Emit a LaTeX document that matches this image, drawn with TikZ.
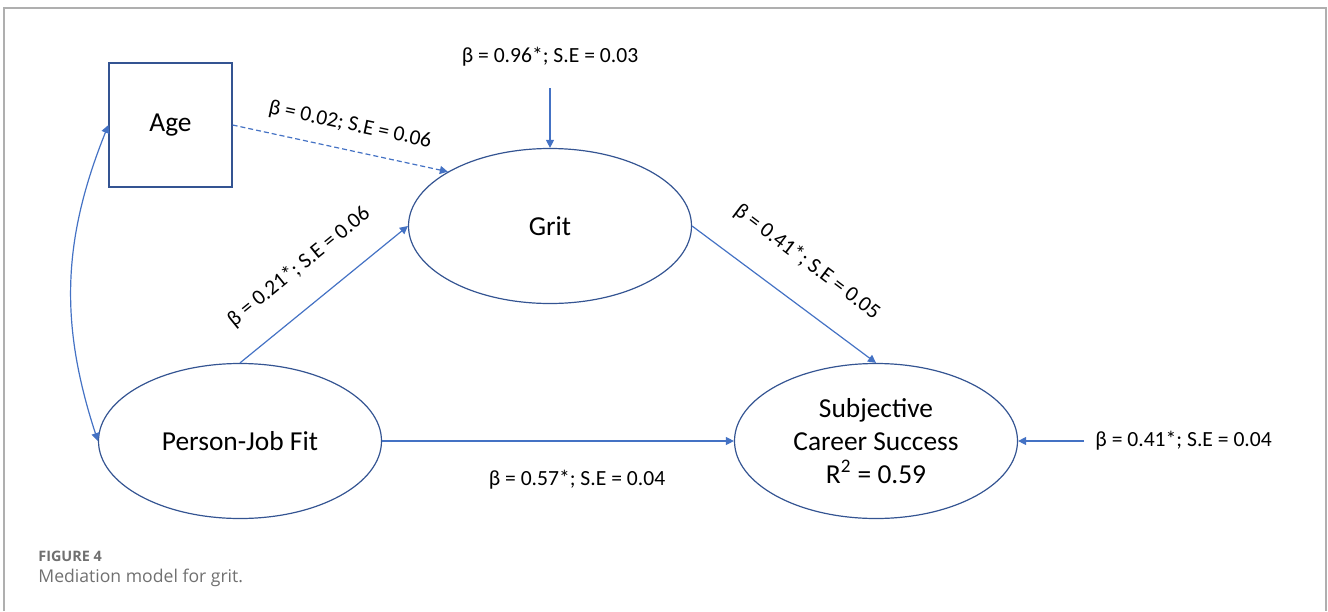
\documentclass[tikz,border=0pt]{standalone}
\usepackage{fontspec}
\setmainfont{Carlito}
\newfontfamily\capfont{Open Sans}
\usepackage{xcolor}
\usetikzlibrary{arrows.meta,shapes.geometric,positioning}
\definecolor{lineblue}{RGB}{68,114,196}
\definecolor{shapeblue}{RGB}{52,84,146}
\definecolor{framegray}{RGB}{175,175,175}
\definecolor{capgray}{RGB}{112,112,112}

\begin{document}
\begin{tikzpicture}[
    % GLOBAL CFG
    x=0.5pt, y=-0.5pt,
    font=\fontsize{13.7}{16.5}\selectfont,
    >={Triangle[length=4pt,width=4pt]},
    % Styles
    observed/.style={% For the measured variable
        rectangle,
        draw=shapeblue,
        line width=.6pt,
        minimum width=61.5pt,
        minimum height=62pt,
        },
    latent/.style={% For the latent variables
        ellipse,
        draw=shapeblue,
        line width=.6pt,
        minimum width=141.5pt,
        minimum height=77.5pt,
        inner sep=0pt,
        align=center,
        },
    coef/.style={% For the path coefficients
        font=\fontsize{10.8}{13}\selectfont,
        inner sep=1pt,
        },
    caption/.style={% Figure caption
        anchor=west,
        text=capgray,
        inner sep=0pt,
        },
    link/.style={% Arrows between the variables
        ->,
        draw=lineblue,
        line width=.6pt,
        },
    ]
    \useasboundingbox (0,0) rectangle (1328,611);
    \draw[framegray, line width=.6pt] (4,611) -- (4,8) -- (1326,8) -- (1326,611);

%Start drawing the thing...
    % The variables
    \node [observed] (age) at (170.5,125) {Age};
    \node [latent] (grit) at (550,226) {Grit};
    \node [latent] (pjf) at (240,441) {Person-Job Fit};
    \node [latent] (scs) at (876,441) {Subjective\\Career Success\\R\textsuperscript{2} = 0.59};

    % Error terms
    \coordinate (egrit) at (550,88);
    \coordinate (escs) at (1084,441);
    \node [coef] (lgrit) at (550,57) {β = 0.96*; S.E = 0.03};
    \node [coef, anchor=west] (lscs) at (1093,441) {β = 0.41*; S.E = 0.04};

    % Paths
    \draw [link] (egrit) -- (grit.north);
    \draw [link] (escs) -- (scs.east);
    \draw [link, dashed, dash pattern=on 2.5pt off 1.5pt] (age.east) -- (grit.152);
    \draw [link] (pjf.north) -- (grit.west);
    \draw [link] (grit.east) -- (scs.north);
    \draw [link] (pjf.east) -- (scs.west);
    \draw [link, <->] (age.west) to[bend right=20] (pjf.west);

    % Coefficients
    \node [coef, rotate=-12] (lage) at (350,125) {β = 0.02; S.E = 0.06};
    \node [coef, rotate=39] (lpjf) at (299,267) {β = 0.21*; S.E = 0.06};
    \node [coef, rotate=-37] (lgs) at (807,262) {β = 0.41*; S.E = 0.05};
    \node [coef] (lps) at (577,480) {β = 0.57*; S.E = 0.04};

    % Caption
    \node [caption, font=\capfont\bfseries\fontsize{7.2}{9}\selectfont] (figno) at (38,556) {FIGURE 4};
    \node [caption, font=\capfont\fontsize{8.8}{11}\selectfont] (figcap) at (38,578) {Mediation model for grit.};
\end{tikzpicture}
\end{document}
